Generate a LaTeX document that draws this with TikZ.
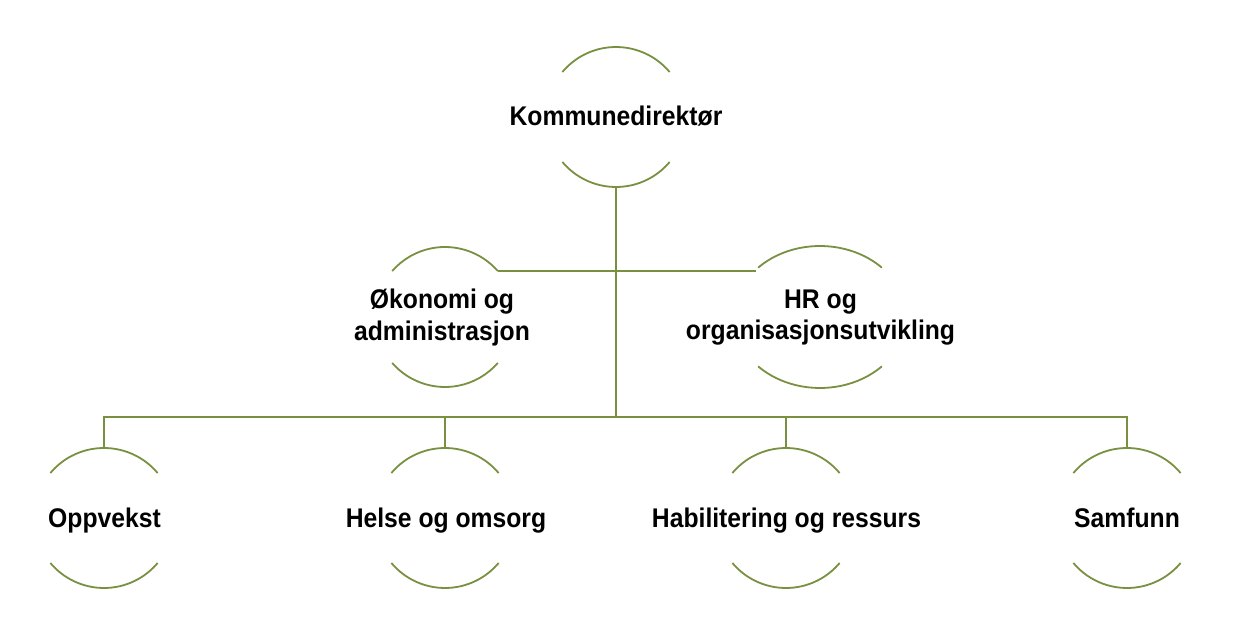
\documentclass[tikz,border=0pt]{standalone}
\usepackage{fontspec}
\newfontfamily\labfont[FakeStretch=0.915]{Liberation Sans}
\usetikzlibrary{calc}
\definecolor{olive}{RGB}{120,144,64}
\tikzset{
  lab/.style={inner sep=0pt, align=center, text=black,
    font=\labfont\bfseries\fontsize{27}{31.5}\selectfont},
  labbase/.style={lab, anchor=base},
  arcline/.style={draw=olive, line width=1.8pt},
  conn/.style={draw=olive, line width=2.1pt},
}
% \ringarcs{name}{x radius}{y radius}{angle}
\newcommand{\ringarcs}[4]{%
  \draw[arcline] ($(#1)+(#4:#2 and #3)$) arc[start angle=#4, end angle=180-#4, x radius=#2, y radius=#3];
  \draw[arcline] ($(#1)+(180+#4:#2 and #3)$) arc[start angle=180+#4, end angle=360-#4, x radius=#2, y radius=#3];
}
\begin{document}
\begin{tikzpicture}[x=1pt,y=1pt]
\useasboundingbox (0,0) rectangle (1240,630);
% nodes (y up: Y = 630 - image y)
\node[labbase] (k)  at (616,504) {Kommunedirektør};
\node[lab] (ok) at (442,312.5) {Økonomi og\\administrasjon};
\node[lab] (hr) at (820.5,312.5) {HR og\\organisasjonsutvikling};
\node[labbase] (op) at (104.5,103) {Oppvekst};
\node[labbase] (he) at (446,103) {Helse og omsorg};
\node[labbase] (ha) at (786.5,103) {Habilitering og ressurs};
\node[labbase] (sa) at (1127,103) {Samfunn};
% ring centres
\coordinate (kc)  at (616,513);
\coordinate (okc) at (445,313);
\coordinate (hrc) at (820,313);
\coordinate (opc) at (104,112);
\coordinate (hec) at (445,112);
\coordinate (hac) at (786,112);
\coordinate (sac) at (1127,112);
% arcs
\ringarcs{kc}{70}{70}{40}
\ringarcs{okc}{70}{70}{41}
\ringarcs{hrc}{86}{71}{44}
\ringarcs{opc}{70}{70}{40}
\ringarcs{hec}{70}{70}{40}
\ringarcs{hac}{70}{70}{40}
\ringarcs{sac}{70}{70}{40}
% connector anchors
\coordinate (k-bot) at ($(kc)+(0,-70)$);
\coordinate (ok-arm) at ($(okc)+(41:70 and 70)$);
\coordinate (hr-arm) at (756,0);
\coordinate (bus) at (616,213);
\coordinate (op-top) at ($(opc)+(0,70)$);
\coordinate (he-top) at ($(hec)+(0,70)$);
\coordinate (ha-top) at ($(hac)+(0,70)$);
\coordinate (sa-top) at ($(sac)+(0,70)$);
% connectors
\draw[conn] (k-bot) -- (bus);
\draw[conn] (ok-arm) -- (ok-arm -| hr-arm);
\draw[conn] (op-top) |- (bus) -| (sa-top);
\draw[conn] (he-top) -- (he-top |- bus);
\draw[conn] (ha-top) -- (ha-top |- bus);
\end{tikzpicture}
\end{document}
